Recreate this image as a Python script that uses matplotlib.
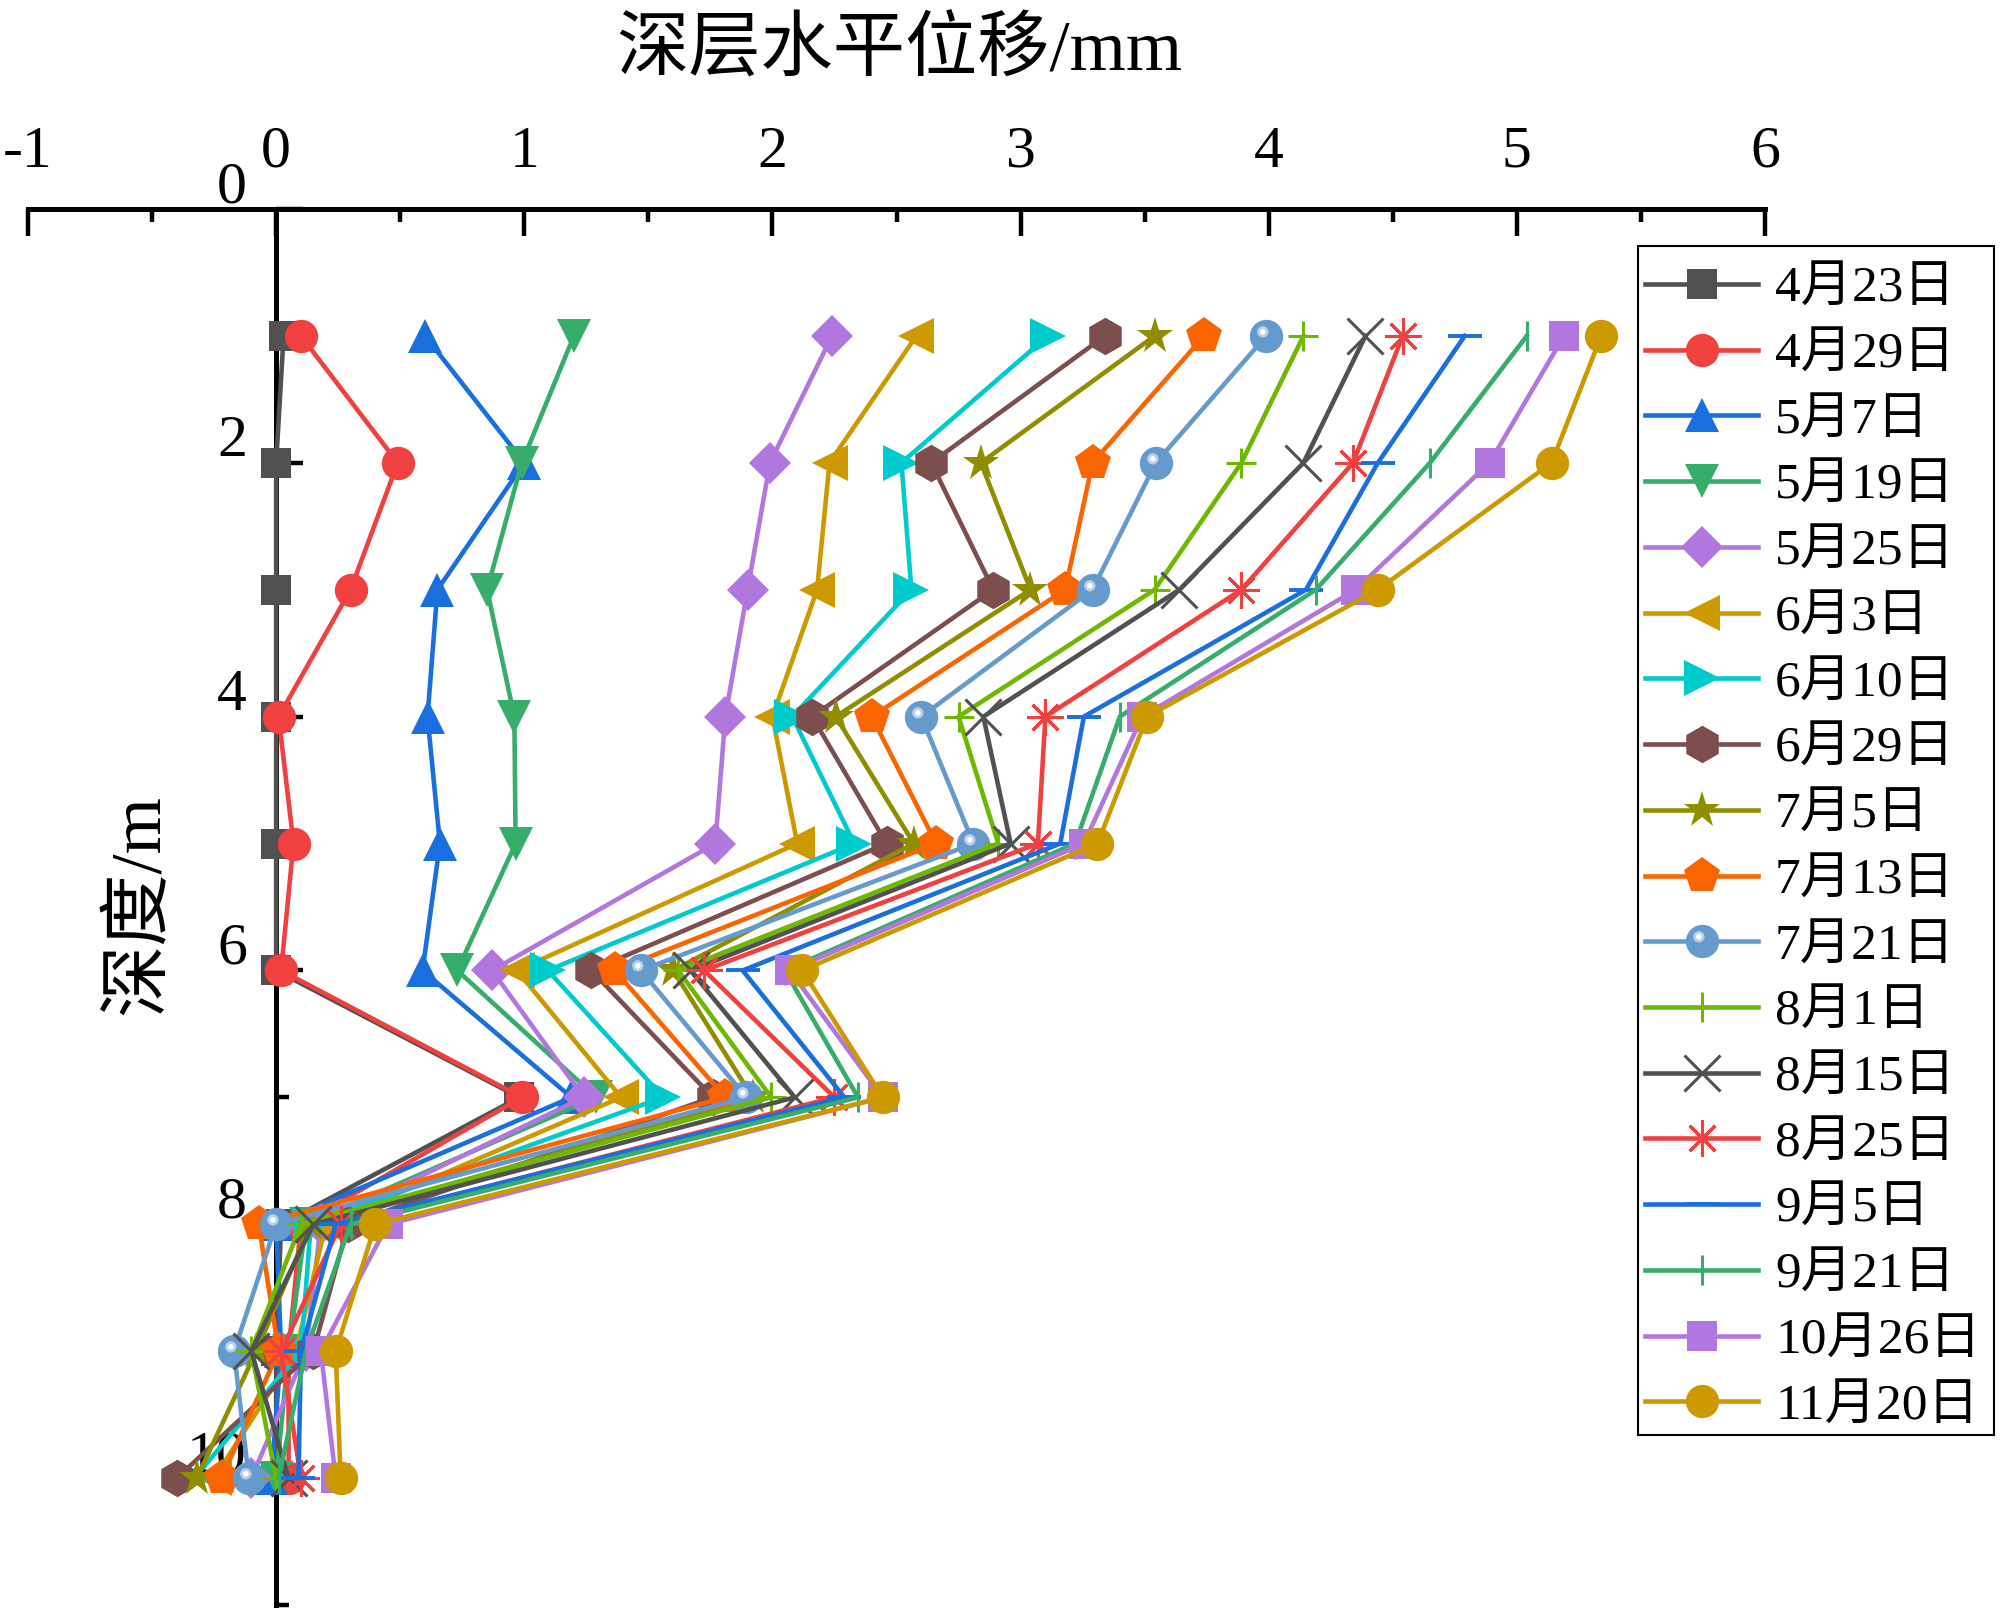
import matplotlib
matplotlib.use('Agg')
import matplotlib.pyplot as plt
from matplotlib.path import Path
from matplotlib.patches import Rectangle
from matplotlib.legend_handler import HandlerTuple
from matplotlib.ticker import MultipleLocator, FixedLocator
import matplotlib.transforms as mtransforms

plt.rcParams['font.family'] = ['Liberation Serif', 'Noto Sans CJK SC', 'DejaVu Sans']

# ---------------- data ----------------
depth = [1, 2, 3, 4, 5, 6, 7, 8, 9, 10]
labels = ['4月23日', '4月29日', '5月7日', '5月19日', '5月25日', '6月3日', '6月10日',
          '6月29日', '7月5日', '7月13日', '7月21日', '8月1日', '8月15日', '8月25日',
          '9月5日', '9月21日', '10月26日', '11月20日']

d0423 = [0.03, 0.00, 0.00, 0.00, 0.00, 0.00, 0.98, 0.02, 0.00, 0.00]
d0429 = [0.10, 0.49, 0.30, 0.01, 0.07, 0.02, 0.99, 0.10, 0.05, 0.05]
d0507 = [0.60, 1.00, 0.65, 0.61, 0.66, 0.59, 1.19, 0.00, 0.02, -0.02]
d0519 = [1.20, 0.99, 0.85, 0.96, 0.965, 0.73, 1.29, 0.12, 0.05, 0.00]
d0525 = [2.24, 1.99, 1.90, 1.81, 1.77, 0.87, 1.24, 0.18, 0.12, -0.10]
d0603 = [2.58, 2.23, 2.18, 2.00, 2.10, 0.97, 1.39, 0.20, 0.08, -0.25]
d0610 = [3.11, 2.52, 2.56, 2.08, 2.33, 1.095, 1.56, 0.14, 0.10, -0.33]
d0629 = [3.34, 2.64, 2.89, 2.16, 2.46, 1.27, 1.76, 0.29, 0.15, -0.40]
d0705 = [3.54, 2.84, 3.04, 2.255, 2.57, 1.60, 1.92, 0.14, -0.08, -0.32]
d0713 = [3.74, 3.29, 3.18, 2.40, 2.66, 1.365, 1.81, -0.07, 0.01, -0.22]
d0721 = [3.99, 3.545, 3.29, 2.60, 2.81, 1.47, 1.895, 0.00, -0.17, -0.11]
d0801 = [4.14, 3.89, 3.54, 2.75, 2.91, 1.62, 1.995, 0.10, -0.10, 0.00]
d0815 = [4.39, 4.14, 3.64, 2.85, 2.96, 1.67, 2.09, 0.15, -0.10, 0.05]
d0825 = [4.54, 4.34, 3.89, 3.10, 3.07, 1.725, 2.25, 0.26, 0.02, 0.10]
d0905 = [4.79, 4.44, 4.15, 3.255, 3.16, 1.88, 2.29, 0.24, 0.10, 0.09]
d0921 = [5.04, 4.65, 4.19, 3.40, 3.22, 2.05, 2.345, 0.30, 0.12, 0.01]
d1026 = [5.19, 4.89, 4.35, 3.49, 3.255, 2.07, 2.445, 0.45, 0.18, 0.24]
d1120 = [5.34, 5.14, 4.44, 3.51, 3.31, 2.12, 2.445, 0.40, 0.24, 0.26]

series = [d0423, d0429, d0507, d0519, d0525, d0603, d0610, d0629, d0705,
          d0713, d0721, d0801, d0815, d0825, d0905, d0921, d1026, d1120]

x_ticks = [-1, 0, 1, 2, 3, 4, 5, 6]
y_ticks = [0, 2, 4, 6, 8, 10]

# ---------------- styles ----------------
colors = ['#515151', '#F14040', '#1A6FDF', '#37AD6B', '#B177DE', '#CC9900',
          '#00CBCC', '#7D4E4E', '#8E8E00', '#FB6501', '#6699CC', '#6FB802',
          '#515151', '#F14040', '#1A6FDF', '#37AD6B', '#B177DE', '#CC9900']
markers = ['s', 'o', '^', 'v', 'D', '<', '>', 'h', '*', 'p', 'o', '+',
           'x', (8, 2, 0), '_', '|', 's', 'o']
msizes = [22, 24, 25, 25, 21, 26, 26, 27, 28, 27, 24, 22, 26, 26, 24, 22, 22, 24]
mews = [0, 0, 0, 0, 0, 0, 0, 0, 0, 0, 0, 2.2, 2.2, 2.2, 2.8, 2.2, 0, 0]

W, H = 2000, 1612
fig = plt.figure(figsize=(W / 100, H / 100), dpi=100)
ax = fig.add_axes([28 / W, 1 - 1605 / H, (1765 - 28) / W, (1605 - 209) / H])

handles = []
for i, (vals, c, m, ms, mew) in enumerate(zip(series, colors, markers, msizes, mews)):
    filled = mew == 0
    ln, = ax.plot(vals, depth, color=c, lw=3.3, marker=m, markersize=ms,
                  markerfacecolor=c, markeredgecolor=c,
                  markeredgewidth=(0 if filled else mew), zorder=3 + i * 0.01,
                  label=labels[i], clip_on=False)
    handles.append(ln)

# highlight for the "sphere" marker (7月21日)
hl_path = Path.make_compound_path(
    Path([(-1, -1)], [Path.MOVETO]),
    Path([(1, 1)], [Path.MOVETO]),
    Path.circle((-0.22, 0.28), 0.34))
hl_path2 = Path.make_compound_path(
    Path([(-1, -1)], [Path.MOVETO]),
    Path([(1, 1)], [Path.MOVETO]),
    Path.circle((-0.22, 0.28), 0.17))
idx = labels.index('7月21日')
hl1, = ax.plot(series[idx], depth, ls='none', marker=hl_path, markersize=24,
               markerfacecolor='#b9d0ea', markeredgewidth=0, zorder=3 + idx * 0.01 + 0.001,
               clip_on=False)
hl2, = ax.plot(series[idx], depth, ls='none', marker=hl_path2, markersize=24,
               markerfacecolor='white', markeredgewidth=0, zorder=3 + idx * 0.01 + 0.002,
               clip_on=False)
handles[idx] = (handles[idx], hl1, hl2)

# ---------------- axes ----------------
ax.set_xlim(-1, 6)
ax.set_ylim(11, 0)
ax.spines['right'].set_visible(False)
ax.spines['bottom'].set_visible(False)
ax.spines['left'].set_position(('data', 0))
for s in ('top', 'left'):
    ax.spines[s].set_linewidth(3.6)
    ax.spines[s].set_zorder(2.6)

ax.xaxis.set_ticks_position('top')
ax.xaxis.set_major_locator(FixedLocator(x_ticks))
ax.xaxis.set_minor_locator(MultipleLocator(0.5))
ax.tick_params(axis='x', which='major', direction='in', length=19.5, width=3.2,
               pad=21, labelsize=43)
ax.tick_params(axis='x', which='minor', direction='in', length=9.5, width=3.2)

ax.yaxis.set_ticks_position('left')
ax.yaxis.set_major_locator(FixedLocator(y_ticks))
ax.yaxis.set_minor_locator(MultipleLocator(1))
ax.tick_params(axis='y', which='major', direction='in', length=19.5, width=3.2,
               pad=21, labelsize=43)
ax.tick_params(axis='y', which='minor', direction='in', length=9.5, width=3.2)
ax.set_xticklabels([str(v) for v in x_ticks])
ax.set_yticklabels([str(v) for v in y_ticks])
off = mtransforms.ScaledTranslation(0, 27 / 100, fig.dpi_scale_trans)
for lab in ax.get_yticklabels():
    lab.set_transform(lab.get_transform() + off)

fig.text(899 / W, 1 - 52 / H, '深层水平位移/mm', ha='center', va='center', fontsize=52)
fig.text(140 / W, 1 - 905 / H, '深度/m', rotation=90, ha='center', va='center', fontsize=52)

# legend frame drawn separately, entries in a frameless legend
frame = Rectangle((1638 / W, 1 - 1435 / H), (1994 - 1638) / W, (1435 - 246) / H,
                  transform=fig.transFigure, facecolor='white', edgecolor='black',
                  linewidth=1.5, zorder=9, clip_on=False)
ax.add_patch(frame)
leg = ax.legend(handles, labels, loc='upper left', bbox_to_anchor=(1645 / W, 1 - 266 / H),
                bbox_transform=fig.transFigure, frameon=False,
                fontsize=37, handlelength=2.2, handletextpad=0.33,
                labelspacing=0.365, borderpad=0, borderaxespad=0, numpoints=1,
                handler_map={tuple: HandlerTuple(ndivide=1)})
leg.set_zorder(10)

fig.savefig('out.png', dpi=100)
